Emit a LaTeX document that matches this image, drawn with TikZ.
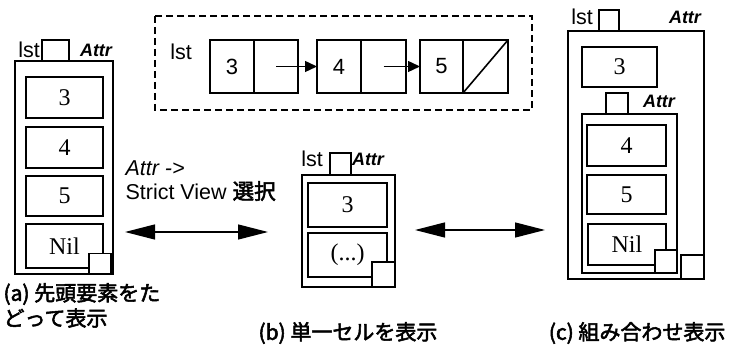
\documentclass[tikz,border=0pt]{standalone}
\usepackage{fontspec}
\setmainfont{Liberation Serif}
\setsansfont{Liberation Sans}
\newfontfamily\jpfont[FakeBold=2.5]{Noto Sans CJK JP}
\usetikzlibrary{arrows.meta}

\tikzset{
  cell/.style={draw,line width=1.6pt,inner sep=0pt,outer sep=0pt,fill=white},
  num/.style={font=\fontsize{24}{27}\selectfont},
  snum/.style={font=\sffamily\fontsize{22}{25}\selectfont},
  lbl/.style={font=\sffamily\fontsize{21.5}{24}\selectfont},
  attr/.style={font=\sffamily\bfseries\itshape\fontsize{18}{22}\selectfont},
  caption/.style={font=\jpfont\fontsize{21}{24}\selectfont,anchor=west},
  bigarrow/.style={{Triangle[length=30pt,width=15pt]}-{Triangle[length=30pt,width=15pt]},line width=1.3pt},
  ptr/.style={-{Triangle[length=12pt,width=11pt]},line width=1.4pt}
}

\begin{document}
\begin{tikzpicture}[x=1pt,y=-1pt]
  \useasboundingbox (0,0) rectangle (729,347);
  % --- (a) lista completa ---
  \draw[line width=1.6pt] (15,61) rectangle (113,274);
  \node[cell,minimum width=27pt,minimum height=21pt] (tabA) at (55.5,50.5) {};
  \node[lbl] (lstA) at (29,50) {lst};
  \node[attr] (attrA) at (96,50) {Attr};
  \node[cell,num,minimum width=77pt,minimum height=41pt] (a3) at (64.5,97.5) {3};
  \node[cell,num,minimum width=77pt,minimum height=41pt] (a4) at (64.5,147.5) {4};
  \node[cell,num,minimum width=77pt,minimum height=40pt] (a5) at (64.5,196) {5};
  \node[cell,num,minimum width=77pt,minimum height=44pt] (aNil) at (64.5,246) {Nil};
  \node[cell,minimum width=22pt,minimum height=20pt] (cornA) at (100,263.5) {};
  % --- lista enlazada (recuadro discontinuo) ---
  \draw[line width=1.6pt,dash pattern=on 7pt off 4pt] (155,16) rectangle (532,110);
  \node[lbl] (lstL) at (181,52) {lst};
  \node[cell,snum,minimum width=44pt,minimum height=53pt] (l1v) at (232,66.5) {3};
  \node[cell,minimum width=44pt,minimum height=53pt] (l1p) at (276,66.5) {};
  \node[cell,snum,minimum width=44pt,minimum height=53pt] (l2v) at (339,66.5) {4};
  \node[cell,minimum width=45pt,minimum height=53pt] (l2p) at (383.5,66.5) {};
  \node[cell,snum,minimum width=43pt,minimum height=53pt] (l3v) at (441.5,66.5) {5};
  \node[cell,minimum width=45pt,minimum height=53pt] (l3p) at (485.5,66.5) {};
  \draw[ptr] (l1p.center) -- (l2v.west);
  \draw[ptr] (l2p.center) -- (l3v.west);
  \draw[line width=1.6pt] (l3p.south west) -- (l3p.north east);
  % --- flechas y texto de seleccion ---
  \node[lbl,anchor=west] (selA) at (122,168) {\itshape Attr ->};
  \node[lbl,anchor=west] (selB) at (122,191) {Strict View {\jpfont 選択}};
  \coordinate (arrL1) at (125,232);
  \coordinate (arrL2) at (268,232);
  \coordinate (arrR1) at (415,230);
  \coordinate (arrR2) at (545,230);
  \draw[bigarrow] (arrL1) -- (arrL2);
  \draw[bigarrow] (arrR1) -- (arrR2);
  % --- (b) celda unica ---
  \draw[line width=1.6pt] (302,175) rectangle (395,287);
  \node[cell,minimum width=21pt,minimum height=22pt] (tabB) at (340.5,164) {};
  \node[lbl] (lstB) at (312,159) {lst};
  \node[attr] (attrB) at (368,159) {Attr};
  \node[cell,num,minimum width=79pt,minimum height=44pt] (b3) at (347.5,205) {3};
  \node[cell,num,minimum width=79pt,minimum height=44pt] (bRest) at (347.5,255) {(...)};
  \node[cell,minimum width=23pt,minimum height=25pt] (cornB) at (383.5,274.5) {};
  % --- (c) combinacion ---
  \draw[line width=1.6pt] (568,31) rectangle (704,279);
  \node[cell,minimum width=20pt,minimum height=21pt] (tabC) at (609,20.5) {};
  \node[lbl] (lstC) at (582,17) {lst};
  \node[attr] (attrC) at (685,17) {Attr};
  \node[cell,num,minimum width=75pt,minimum height=40pt] (c3) at (619.5,67) {3};
  \node[cell,minimum width=22pt,minimum height=21pt] (tabCi) at (617,103.5) {};
  \node[attr] (attrCi) at (659,101) {Attr};
  \draw[line width=1.6pt] (582,114) rectangle (677,273);
  \node[cell,num,minimum width=79pt,minimum height=41pt] (c4) at (626.5,145.5) {4};
  \node[cell,num,minimum width=79pt,minimum height=39pt] (c5) at (626.5,194.5) {5};
  \node[cell,num,minimum width=78pt,minimum height=41pt] (cNil) at (627,244.5) {Nil};
  \node[cell,minimum width=22pt,minimum height=23pt] (cornCi) at (666,261.5) {};
  \node[cell,minimum width=23pt,minimum height=24pt] (cornC) at (692.5,267) {};
  % --- pies ---
  \node[caption] (capA1) at (0,294) {(a) 先頭要素をた};
  \node[caption] (capA2) at (0,318) {どって表示};
  \node[caption] (capB) at (255,333) {(b) 単一セルを表示};
  \node[caption,anchor=east] (capC) at (729,333) {(c) 組み合わせ表示};
\end{tikzpicture}
\end{document}
